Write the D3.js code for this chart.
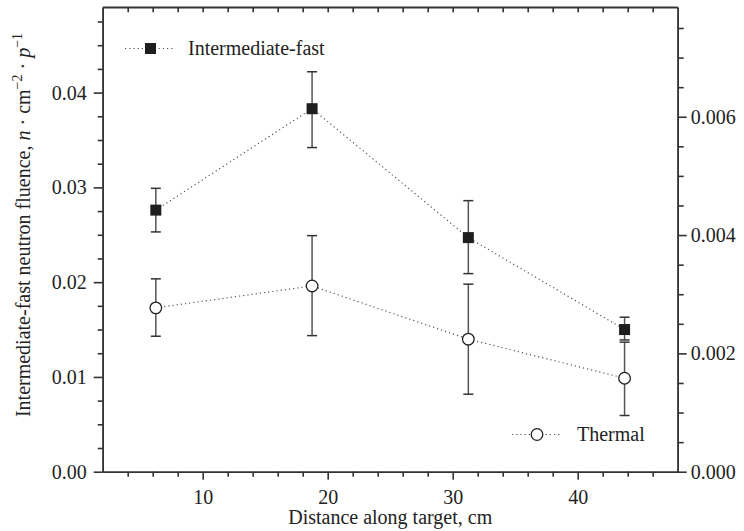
<!DOCTYPE html>
<html>
<head>
<meta charset="utf-8">
<script src="https://cdn.jsdelivr.net/npm/d3@7/dist/d3.min.js"></script>
<style>
  html, body { margin: 0; padding: 0; background: #fff; }
  svg { display: block; }
  text { font-family: "Liberation Serif", "Times New Roman", serif; fill: #222; }
</style>
</head>
<body>
<svg id="chart" width="744" height="531"></svg>
<script>
// Positions along the target (cm)
const distance = [6.25, 18.75, 31.25, 43.75];

// Intermediate-fast neutron fluence (left axis) with error-bar limits
const fastValue = [0.0276, 0.0383, 0.0247, 0.0150];
const fastHigh  = [0.0299, 0.0422, 0.0286, 0.0163];
const fastLow   = [0.0253, 0.0342, 0.0209, 0.0139];

// Thermal neutron fluence (right axis) with error-bar limits
const thermalValue = [0.00277, 0.00314, 0.00224, 0.00158];
const thermalHigh  = [0.00326, 0.00399, 0.00317, 0.00219];
const thermalLow   = [0.00229, 0.00230, 0.00131, 0.00095];

// Tick values
const xMajorTicks = [10, 20, 30, 40];
const leftMajorTicks = [0, 0.01, 0.02, 0.03, 0.04];
const rightMajorTicks = [0, 0.002, 0.004, 0.006];

const svg = d3.select("#chart");
const L = 102.7, R = 677.7, T = 7.3, B = 471.7;

const x = d3.scaleLinear().domain([2, 48]).range([L, R]);
const yLeft = d3.scaleLinear().domain([0, 0.049]).range([B, T]);
const yRight = d3.scaleLinear().domain([0, 0.00785]).range([B, T]);

const axisColor = "#333";
const fontSize = 20;

// ---- axes ----
const xMinor = d3.range(4, 48, 2);
const leftMinor = d3.range(0.0025, 0.049, 0.0025);
const rightMinor = d3.range(0.0005, 0.00785, 0.0005);

function styleAxis(g) {
  g.selectAll("path.domain").attr("stroke", axisColor).attr("stroke-width", 1.6);
  g.selectAll(".tick line").attr("stroke", axisColor).attr("stroke-width", 1.6);
  g.selectAll(".tick text").style("font-size", fontSize + "px").attr("fill", "#222");
}

// bottom: minor ticks then labelled major ticks
svg.append("g").attr("transform", `translate(0,${B})`)
  .call(d3.axisBottom(x).tickValues(xMinor.filter(v => !xMajorTicks.includes(v))).tickSize(5).tickFormat("").tickSizeOuter(0))
  .call(styleAxis);
svg.append("g").attr("transform", `translate(0,${B})`)
  .call(d3.axisBottom(x).tickValues(xMajorTicks).tickSize(8).tickPadding(7).tickFormat(d3.format("d")).tickSizeOuter(0))
  .call(styleAxis)
  .call(g => g.selectAll(".tick text").attr("dy", "0.85em"));

// top: inward ticks
svg.append("g").attr("transform", `translate(0,${T})`)
  .call(d3.axisBottom(x).tickValues(xMinor).tickSize(5).tickFormat("").tickSizeOuter(0))
  .call(styleAxis);

// left axis
svg.append("g").attr("transform", `translate(${L},0)`)
  .call(d3.axisLeft(yLeft).tickValues(leftMinor.filter(v => Math.abs(v * 100 - Math.round(v * 100)) > 1e-6)).tickSize(5).tickFormat("").tickSizeOuter(0))
  .call(styleAxis);
svg.append("g").attr("transform", `translate(${L},0)`)
  .call(d3.axisLeft(yLeft).tickValues(leftMajorTicks).tickSize(9).tickPadding(7).tickFormat(d3.format(".2f")).tickSizeOuter(0))
  .call(styleAxis);

// right axis
svg.append("g").attr("transform", `translate(${R},0)`)
  .call(d3.axisRight(yRight).tickValues(rightMinor.filter(v => Math.abs(v * 500 - Math.round(v * 500)) > 1e-6)).tickSize(6).tickFormat("").tickSizeOuter(0))
  .call(styleAxis);
svg.append("g").attr("transform", `translate(${R},0)`)
  .call(d3.axisRight(yRight).tickValues(rightMajorTicks).tickSize(9).tickPadding(4).tickFormat(d3.format(".3f")).tickSizeOuter(0))
  .call(styleAxis);

// frame lines
svg.append("line").attr("x1", L).attr("x2", R).attr("y1", T).attr("y2", T)
  .attr("stroke", axisColor).attr("stroke-width", 1.6);

// ---- axis titles ----
svg.append("text")
  .attr("x", (L + R) / 2).attr("y", 524)
  .attr("text-anchor", "middle")
  .style("font-size", fontSize + "px")
  .text("Distance along target, cm");

const yt = svg.append("text")
  .attr("transform", "translate(30,225) rotate(-90)")
  .attr("text-anchor", "middle")
  .style("font-size", fontSize + "px");
yt.append("tspan").text("Intermediate-fast neutron fluence, ");
yt.append("tspan").attr("font-style", "italic").text("n");
yt.append("tspan").text(" · cm");
yt.append("tspan").attr("dy", -8).style("font-size", "14px").text("−2");
yt.append("tspan").attr("dy", 8).text(" · ");
yt.append("tspan").attr("font-style", "italic").text("p");
yt.append("tspan").attr("dy", -8).style("font-size", "14px").text("−1");

// ---- series ----
const lineColor = "#555";
const barColor = "#555";

function drawSeries(vals, hi, lo, yScale, marker) {
  const pts = distance.map((d, i) => ({ d, v: vals[i], hi: hi[i], lo: lo[i] }));
  const g = svg.append("g");
  g.append("path")
    .datum(pts)
    .attr("fill", "none")
    .attr("stroke", lineColor)
    .attr("stroke-width", 1.2)
    .attr("stroke-dasharray", "1.2,3")
    .attr("d", d3.line().x(p => x(p.d)).y(p => yScale(p.v)));

  const eb = g.selectAll("g.eb").data(pts).enter().append("g");
  eb.append("line")
    .attr("x1", p => x(p.d)).attr("x2", p => x(p.d))
    .attr("y1", p => yScale(p.hi)).attr("y2", p => yScale(p.lo))
    .attr("stroke", barColor).attr("stroke-width", 1.5);
  ["hi", "lo"].forEach(k => {
    eb.append("line")
      .attr("x1", p => x(p.d) - 5).attr("x2", p => x(p.d) + 5)
      .attr("y1", p => yScale(p[k])).attr("y2", p => yScale(p[k]))
      .attr("stroke", "#333").attr("stroke-width", 1.5);
  });

  if (marker === "square") {
    g.selectAll("rect.m").data(pts).enter().append("rect")
      .attr("x", p => x(p.d) - 5.5).attr("y", p => yScale(p.v) - 5.5)
      .attr("width", 11).attr("height", 11)
      .attr("fill", "#1e1e1e");
  } else {
    g.selectAll("circle.m").data(pts).enter().append("circle")
      .attr("cx", p => x(p.d)).attr("cy", p => yScale(p.v))
      .attr("r", 5.8)
      .attr("fill", "#fff").attr("stroke", "#222").attr("stroke-width", 1.3);
  }
}

drawSeries(fastValue, fastHigh, fastLow, yLeft, "square");
drawSeries(thermalValue, thermalHigh, thermalLow, yRight, "circle");

// ---- legends ----
function legend(lx1, lx2, mx, ly, marker, label, tx) {
  const g = svg.append("g");
  g.append("line").attr("x1", lx1).attr("x2", lx2).attr("y1", ly).attr("y2", ly)
    .attr("stroke", lineColor).attr("stroke-width", 1.2).attr("stroke-dasharray", "1.2,3");
  if (marker === "square") {
    g.append("rect").attr("x", mx - 5.5).attr("y", ly - 5.5).attr("width", 11).attr("height", 11)
      .attr("fill", "#1e1e1e");
  } else {
    g.append("circle").attr("cx", mx).attr("cy", ly).attr("r", 5.8)
      .attr("fill", "#fff").attr("stroke", "#222").attr("stroke-width", 1.3);
  }
  g.append("text").attr("x", tx).attr("y", ly + 6.5)
    .style("font-size", fontSize + "px").text(label);
}
legend(125, 175, 150.5, 48.5, "square", "Intermediate-fast", 188);
legend(512, 561, 537, 434.5, "circle", "Thermal", 577);
</script>
</body>
</html>
